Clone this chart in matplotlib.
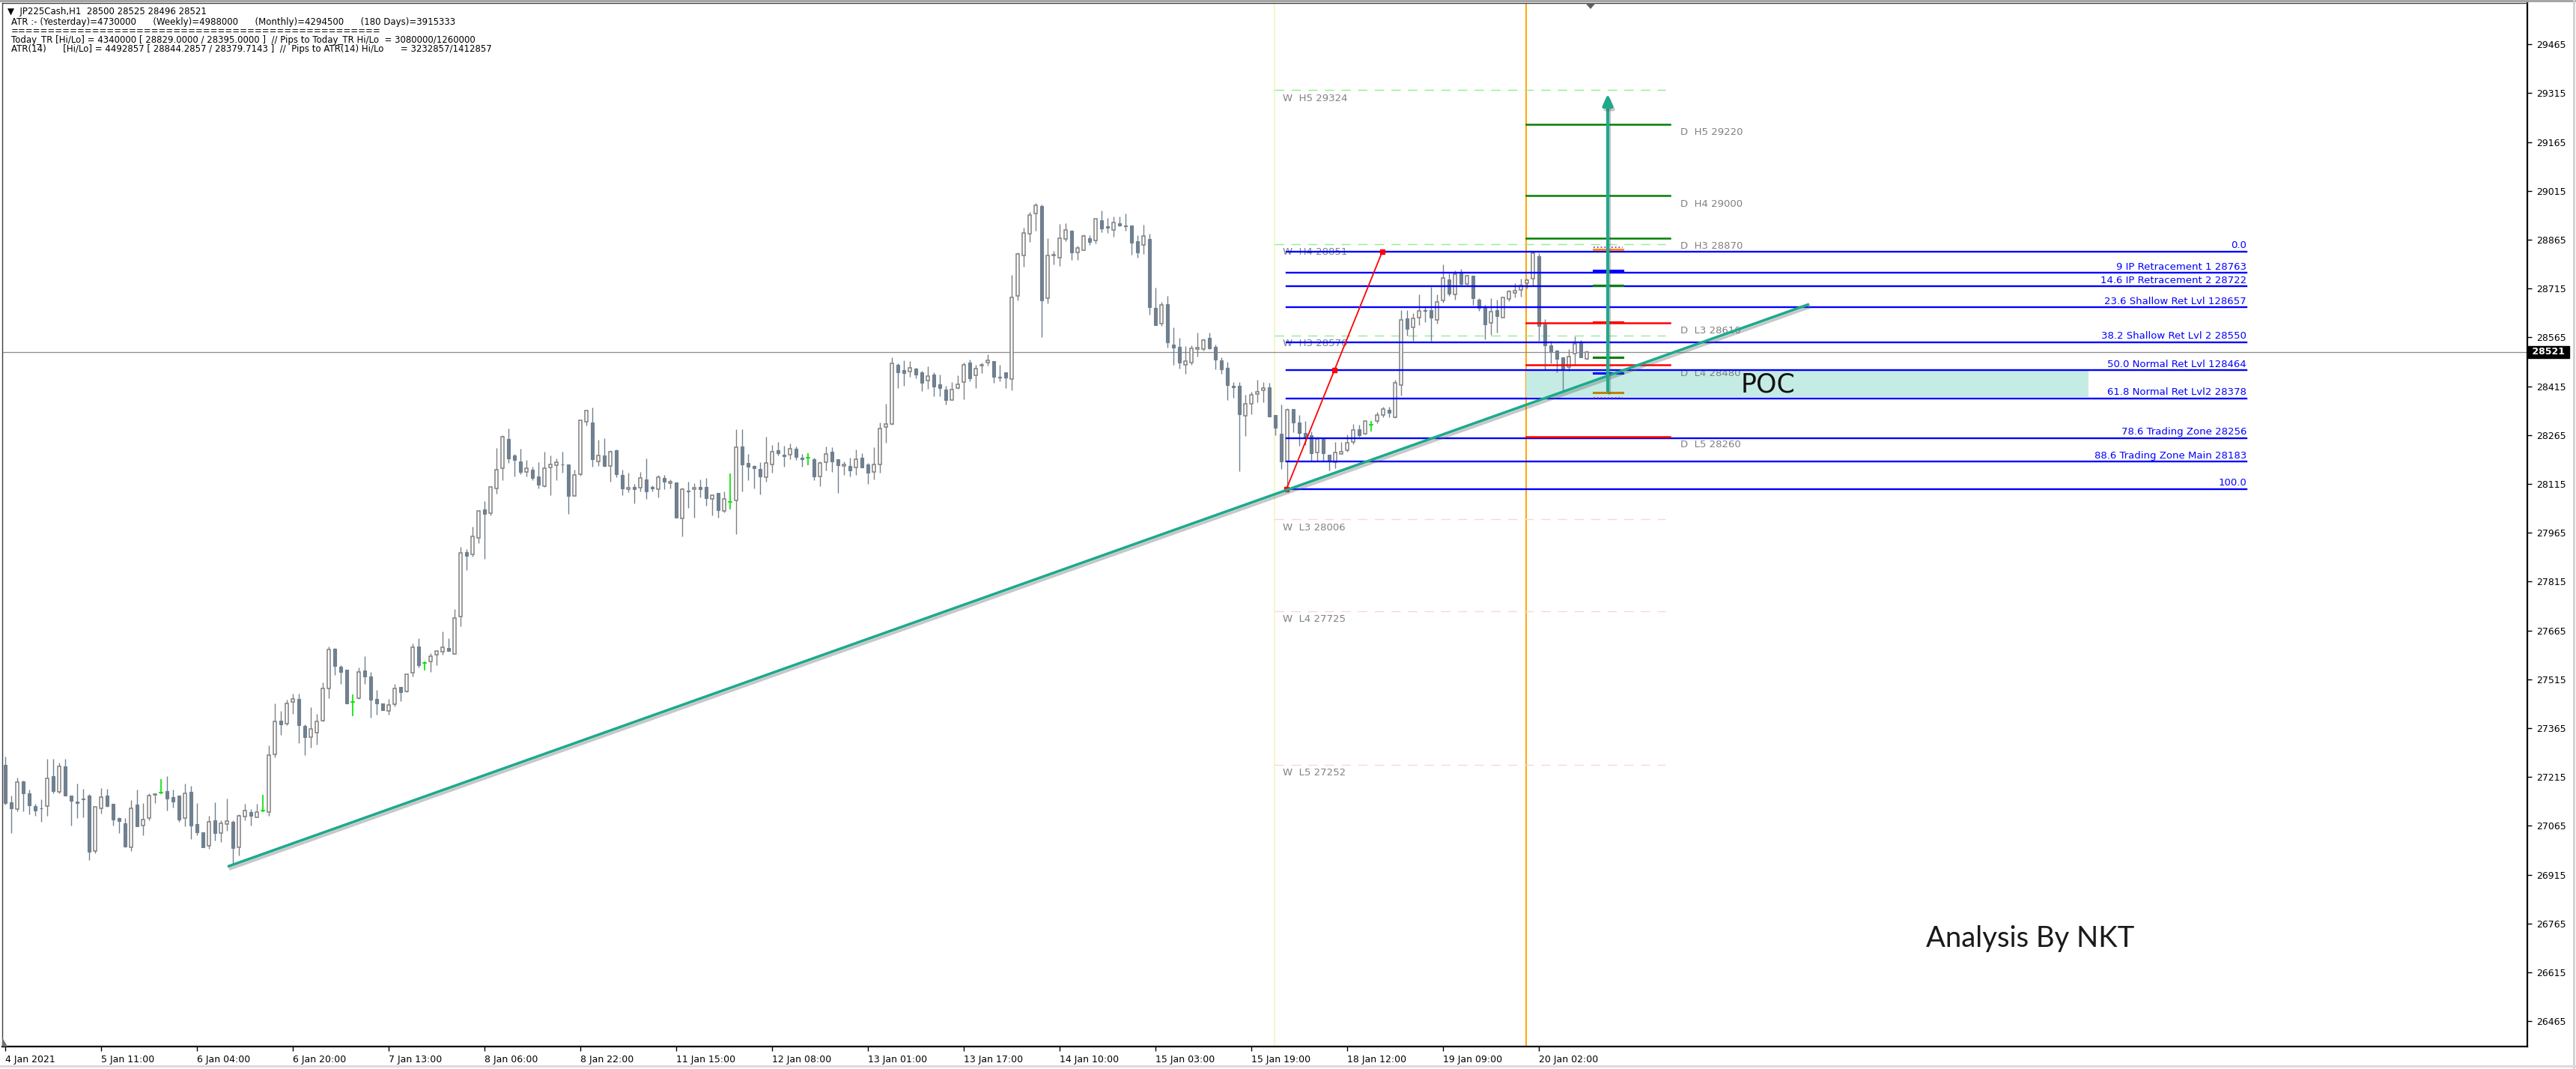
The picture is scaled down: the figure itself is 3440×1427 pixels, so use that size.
import numpy as np
import matplotlib
matplotlib.use('Agg')
import matplotlib.pyplot as plt
import matplotlib.patheffects as pe
from matplotlib.patches import Rectangle, Polygon
from matplotlib.lines import Line2D
from matplotlib import font_manager

# ---------------- data (hourly JP225Cash candles) ----------------
O = [
27253,27137,27116,27203,27164,27125,27120,27127,27217,27170,
27247,27157,27139,27150,27157,26989,27118,27157,27132,27088,
27072,27000,27130,27065,27088,27160,27168,27173,27153,27159,
27090,27170,27071,27045,27003,27082,27044,27070,27078,26999,
27093,27107,27091,27111,27107,27285,27389,27380,27445,27454,
27372,27337,27351,27389,27486,27609,27554,27544,27445,27458,
27542,27523,27454,27440,27417,27438,27492,27479,27535,27616,
27565,27569,27590,27600,27611,27592,27709,27906,27898,27949,
28036,28025,28102,28163,28253,28202,28183,28153,28159,28137,
28109,28165,28172,28176,28176,28078,28144,28305,28304,28183,
28202,28170,28219,28142,28098,28105,28103,28128,28105,28098,
28133,28117,28119,28009,28094,28098,28107,28106,28068,28087,
28032,28059,28064,28229,28179,28170,28160,28135,28175,28219,
28204,28205,28224,28196,28196,28192,28137,28181,28213,28190,
28170,28170,28165,28196,28176,28153,28176,28289,28300,28482,
28464,28461,28469,28457,28432,28450,28420,28406,28372,28410,
28427,28487,28448,28478,28487,28492,28443,28459,28438,28692,
28817,28883,28945,28968,28685,28817,28811,28867,28892,28825,
28834,28869,28863,28924,28906,28894,28915,28909,28909,28860,
28850,28867,28655,28607,28667,28542,28536,28482,28487,28529,
28530,28564,28535,28495,28472,28416,28417,28324,28361,28391,
28403,28411,28327,28269,28185,28346,28304,28272,28265,28211,
28253,28205,28181,28208,28219,28244,28282,28269,28298,28308,
28327,28343,28321,28418,28623,28596,28625,28649,28648,28618,
28679,28742,28696,28765,28729,28754,28681,28658,28610,28648,
28626,28684,28702,28710,28731,28745,28815,28604,28541,28524,
28503,28474,28516,28547,28500]

H = [
27278,27159,27214,27205,27176,27132,27147,27272,27270,27259,
27270,27159,27196,27178,27163,27124,27180,27178,27132,27092,
27088,27144,27176,27134,27164,27166,27209,27219,27176,27159,
27194,27189,27134,27045,27097,27137,27082,27150,27082,27100,
27132,27117,27132,27160,27312,27441,27419,27452,27472,27472,
27377,27430,27408,27506,27616,27611,27558,27544,27469,27551,
27586,27538,27482,27440,27456,27500,27492,27531,27624,27641,
27569,27596,27601,27663,27641,27730,27922,27914,27985,28034,
28062,28109,28225,28265,28285,28207,28223,28189,28168,28182,
28214,28202,28193,28214,28176,28159,28310,28340,28350,28251,
28255,28219,28221,28159,28150,28114,28152,28193,28110,28143,
28143,28129,28119,28104,28121,28117,28129,28134,28084,28087,
28091,28147,28282,28283,28207,28173,28181,28261,28235,28243,
28232,28239,28229,28206,28209,28196,28184,28230,28227,28190,
28184,28196,28221,28209,28180,28227,28304,28361,28504,28485,
28495,28492,28472,28462,28477,28458,28450,28416,28428,28449,
28488,28498,28480,28488,28513,28492,28481,28459,28758,28826,
28902,28950,28978,28973,28870,28831,28913,28915,28894,28846,
28881,28880,28930,28955,28932,28936,28936,28945,28909,28879,
28910,28883,28718,28673,28692,28596,28564,28539,28541,28580,
28561,28580,28543,28505,28489,28428,28428,28390,28399,28434,
28428,28426,28327,28359,28348,28346,28327,28309,28276,28261,
28253,28205,28245,28245,28267,28300,28296,28311,28309,28337,
28351,28353,28436,28648,28648,28639,28696,28658,28721,28696,
28790,28762,28771,28775,28758,28754,28685,28664,28685,28681,
28689,28710,28731,28746,28746,28831,28823,28621,28555,28526,
28503,28529,28568,28556,28525]

L = [
27130,27044,27109,27109,27100,27095,27077,27095,27164,27164,
27159,27067,27088,27092,26961,26982,27104,27124,27067,27042,
27000,26989,27063,27037,27082,27134,27163,27113,27121,27078,
27063,27025,27037,27000,26994,27021,27015,27051,26948,26975,
27082,27065,27091,27107,27095,27276,27345,27375,27410,27320,
27283,27306,27315,27387,27458,27529,27502,27442,27403,27454,
27500,27398,27406,27421,27406,27431,27449,27476,27525,27552,
27542,27538,27559,27590,27603,27592,27679,27851,27891,27934,
27886,28019,28086,28127,28180,28137,28146,28137,28127,28102,
28107,28081,28127,28150,28022,28078,28141,28295,28167,28171,
28167,28121,28135,28081,28089,28056,28091,28068,28091,28073,
28098,28102,28012,27953,28042,28012,28074,28048,28018,28012,
28027,28036,27960,28091,28127,28102,28084,28121,28150,28202,
28169,28190,28188,28169,28173,28127,28109,28157,28153,28088,
28143,28139,28143,28165,28116,28130,28150,28242,28298,28410,
28416,28445,28439,28401,28408,28384,28384,28360,28372,28407,
28376,28431,28410,28456,28478,28426,28431,28410,28403,28679,
28783,28859,28893,28567,28670,28790,28785,28861,28804,28804,
28834,28850,28854,28889,28885,28875,28906,28893,28820,28811,
28822,28634,28602,28600,28534,28480,28469,28453,28480,28506,
28524,28530,28468,28453,28372,28380,28154,28263,28328,28365,
28365,28323,28265,28161,28100,28275,28232,28235,28186,28186,
28186,28156,28164,28206,28215,28236,28261,28267,28276,28302,
28321,28319,28317,28387,28570,28555,28602,28611,28555,28607,
28671,28693,28681,28723,28727,28664,28647,28560,28574,28579,
28625,28677,28689,28690,28716,28723,28555,28468,28486,28457,
28396,28462,28478,28505,28496]

C = [
27136,27118,27199,27166,27129,27111,27118,27210,27173,27249,
27159,27141,27136,27147,26986,27123,27153,27127,27084,27081,
27002,27118,27063,27084,27157,27163,27168,27150,27140,27085,
27166,27065,27046,27000,27077,27042,27072,27079,26996,27097,
27111,27095,27107,27111,27282,27387,27376,27440,27456,27375,
27338,27364,27385,27486,27606,27555,27538,27442,27445,27537,
27525,27452,27442,27421,27436,27486,27475,27531,27614,27559,
27565,27585,27601,27613,27603,27703,27903,27895,27953,28032,
28022,28106,28158,28260,28194,28188,28151,28163,28133,28112,
28163,28176,28181,28174,28079,28142,28310,28340,28190,28203,
28171,28213,28144,28102,28103,28098,28133,28091,28102,28135,
28121,28121,28012,28098,28091,28103,28098,28072,28080,28035,
28068,28059,28227,28176,28167,28163,28137,28179,28213,28209,
28200,28223,28198,28190,28196,28139,28179,28206,28183,28173,
28175,28157,28192,28165,28150,28175,28286,28299,28485,28459,
28456,28471,28450,28426,28446,28415,28410,28373,28406,28420,
28480,28440,28470,28481,28494,28445,28441,28441,28689,28821,
28885,28942,28970,28679,28816,28818,28869,28894,28827,28840,
28876,28859,28930,28900,28901,28919,28909,28906,28857,28827,
28876,28659,28602,28664,28549,28533,28487,28493,28532,28534,
28557,28532,28497,28468,28418,28413,28328,28362,28388,28399,
28409,28323,28288,28185,28343,28304,28271,28258,28210,28252,
28210,28183,28211,28215,28242,28280,28265,28309,28298,28327,
28345,28334,28426,28618,28592,28624,28646,28647,28625,28673,
28748,28700,28760,28729,28754,28685,28656,28604,28645,28630,
28689,28706,28708,28725,28741,28823,28601,28541,28522,28499,
28470,28507,28545,28505,28521]

X_TICK_LABELS = ["4 Jan 2021", "5 Jan 11:00", "6 Jan 04:00", "6 Jan 20:00", "7 Jan 13:00",
                 "8 Jan 06:00", "8 Jan 22:00", "11 Jan 15:00", "12 Jan 08:00", "13 Jan 01:00",
                 "13 Jan 17:00", "14 Jan 10:00", "15 Jan 03:00", "15 Jan 19:00", "18 Jan 12:00",
                 "19 Jan 09:00", "20 Jan 02:00"]
Y_TICKS = [29465, 29315, 29165, 29015, 28865, 28715, 28565, 28415, 28265, 28115,
           27965, 27815, 27665, 27515, 27365, 27215, 27065, 26915, 26765, 26615, 26465]
LAST_PRICE = 28521

FIB_HIGH = 28829
FIB_LOW = 28100
FIB_LEVELS = [0.0, 9.0, 14.6, 23.6, 38.2, 50.0, 61.8, 78.6, 88.6, 100.0]
FIB_LABELS = ["0.0", "9 IP Retracement 1 28763", "14.6 IP Retracement 2 28722",
              "23.6 Shallow Ret Lvl 128657", "38.2 Shallow Ret Lvl 2 28550",
              "50.0 Normal Ret Lvl 128464", "61.8 Normal Ret Lvl2 28378",
              "78.6 Trading Zone 28256", "88.6 Trading Zone Main 28183", "100.0"]

W_NAMES = ["H5", "H4", "H3", "L3", "L4", "L5"]
W_PIVOTS = [29324, 28851, 28570, 28006, 27725, 27252]
D_NAMES = ["H5", "H4", "H3", "L3", "L4", "L5"]
D_PIVOTS = [29220, 29000, 28870, 28610, 28480, 28260]

MARK_PRICES = [28843, 28836, 28771, 28725, 28612, 28503, 28456, 28395, 28380]
MARK_COLORS = ["#9932cc", "#ff8c00", "#0000ff", "#008000", "#ff0000", "#008000", "#0000ff", "#b8860b", "#9932cc"]
MARK_STYLES = [":", "-", "-", "-", "-", "-", "-", "-", ":"]

TREND_PRICES = [26940, 28667]
ARROW_PRICES = [28401, 29313]
POC_PRICES = [28381, 28466]

HEADER = [
    "\u25bc  JP225Cash,H1  28500 28525 28496 28521",
    "ATR :- (Yesterday)=4730000      (Weekly)=4988000      (Monthly)=4294500      (180 Days)=3915333",
    "=" * 50,
    "Today_TR [Hi/Lo] = 4340000 [ 28829.0000 / 28395.0000 ]  // Pips to Today_TR Hi/Lo  = 3080000/1260000",
    "ATR(14)      [Hi/Lo] = 4492857 [ 28844.2857 / 28379.7143 ]  //  Pips to ATR(14) Hi/Lo      = 3232857/1412857",
]

# ---------------- layout ----------------
W_PX, H_PX = 3440, 1427
AX_L, AX_R, AX_T, AX_B = 3, 3375, 4, 1397
BAR0_PX, BAR_W_PX = 7, 8

def bar_of(xpx):
    return (xpx - BAR0_PX) / BAR_W_PX

avail = {f.name for f in font_manager.fontManager.ttflist}
NARROW = 'Liberation Sans Narrow' if 'Liberation Sans Narrow' in avail else None

fig = plt.figure(figsize=(W_PX / 100, H_PX / 100), dpi=100)
fig.patch.set_facecolor('white')
ax = fig.add_axes([AX_L / W_PX, 1 - AX_B / H_PX, (AX_R - AX_L) / W_PX, (AX_B - AX_T) / H_PX])
ax.set_facecolor('white')
ax.set_xlim(bar_of(AX_L), bar_of(AX_R))
ax.set_ylim(26387.5, 29592)

TEAL = '#1fa98c'
GRAY_TXT = '#808080'

# vertical separators
ax.axvline(bar_of(1702), color='#f3f3c4', lw=1.2, zorder=0.5)
ax.axvline(bar_of(2038), color='#ffa500', lw=1.4, zorder=0.6)

# current price line
ax.axhline(LAST_PRICE, color='#8c8c8c', lw=0.9, zorder=0.7)

# POC zone
ax.add_patch(Rectangle((bar_of(2038), POC_PRICES[0]), bar_of(2789) - bar_of(2038),
                       POC_PRICES[1] - POC_PRICES[0], fc='#c5ece4', ec='none', zorder=0.8))

# ---------------- candles ----------------
Oa, Ha, La, Ca = map(np.array, (O, H, L, C))
x = np.arange(len(Oa))
bull = Ca > Oa
bear = Ca < Oa
doji = Ca == Oa
ax.vlines(x[bull], La[bull], Ha[bull], color='#808080', lw=1.0, zorder=2)
ax.vlines(x[bear], La[bear], Ha[bear], color='#708090', lw=1.0, zorder=2)
ax.vlines(x[doji], La[doji], Ha[doji], color='#00e000', lw=1.2, zorder=2)
ax.hlines(Ca[doji], x[doji] - 0.35, x[doji] + 0.35, color='#00e000', lw=1.2, zorder=2)
bw = 0.62
hb = np.maximum(Ca[bull] - Oa[bull], 2)
ax.bar(x[bull], hb, bottom=Oa[bull], width=bw, facecolor='white', edgecolor='#808080',
       linewidth=1.1, zorder=2.2)
hr = np.maximum(Oa[bear] - Ca[bear], 2)
ax.bar(x[bear], hr, bottom=Ca[bear], width=bw, facecolor='#708090', edgecolor='#708090',
       linewidth=0.8, zorder=2.2)

# ---------------- weekly pivots (dashed) ----------------
wx0, wx1 = bar_of(1702), bar_of(2224)
for nm, p in zip(W_NAMES, W_PIVOTS):
    col = '#90ee90' if nm.startswith('H') else '#f6d8d8'
    ax.plot([wx0, wx1], [p, p], color=col, lw=1.0, dashes=(9, 7), zorder=1.5)
    ax.annotate(f"W  {nm} {p}", (bar_of(1713), p), xytext=(0, -3), textcoords='offset points',
                ha='left', va='top', fontsize=9.5, color=GRAY_TXT, zorder=3)

# ---------------- fibonacci ----------------
fx0, fx1 = bar_of(1718), bar_of(3000)
rng = FIB_HIGH - FIB_LOW
for lvl, lab in zip(FIB_LEVELS, FIB_LABELS):
    p = FIB_HIGH - lvl / 100.0 * rng
    ax.plot([fx0, fx1], [p, p], color='#0000ff', lw=1.7, zorder=3.2)
    if NARROW:
        ax.annotate(lab, (fx1, p), xytext=(0, 1), textcoords='offset points', ha='right',
                    va='bottom', fontsize=11.5, color='#0000ff', family=NARROW, zorder=3.3)
    else:
        ax.annotate(lab, (fx1, p), xytext=(0, 1), textcoords='offset points', ha='right',
                    va='bottom', fontsize=9.5, color='#0000ff', zorder=3.3)

# ---------------- daily pivots ----------------
dx0, dx1 = bar_of(2038), bar_of(2230)
for nm, p in zip(D_NAMES, D_PIVOTS):
    col = '#008000' if nm.startswith('H') else '#ff0000'
    ax.plot([dx0, dx1], [p, p], color=col, lw=1.8, zorder=3.4)
    ax.annotate(f"D  {nm} {p}", (bar_of(2244), p), xytext=(0, -3), textcoords='offset points',
                ha='left', va='top', fontsize=9.5, color=GRAY_TXT, zorder=3)

# fib anchor line (red)
fb0, fb1 = bar_of(1718), bar_of(1846)
ax.plot([fb0, fb1], [FIB_LOW, FIB_HIGH], color='#ff0000', lw=1.3, zorder=3.4)
ax.plot([fb0, (fb0 + fb1) / 2, fb1], [FIB_LOW, (FIB_LOW + FIB_HIGH) / 2, FIB_HIGH], ls='none',
        marker='s', ms=5, color='#ff0000', zorder=3.5)

# ---------------- marks (ATR / TR levels) ----------------
mx0, mx1 = bar_of(2128), bar_of(2167)
for p, c, s in zip(MARK_PRICES, MARK_COLORS, MARK_STYLES):
    ax.plot([mx0, mx1], [p, p], color=c, lw=2.2 if s == '-' else 1.3, ls=s, zorder=3.6)

# ---------------- trend line ----------------
shadow = [pe.SimpleLineShadow(offset=(1.5, -2.5), shadow_color='#606060', alpha=0.35), pe.Normal()]
ax.plot([bar_of(304), bar_of(2416)], TREND_PRICES, color=TEAL, lw=2.6, zorder=4,
        solid_capstyle='butt', path_effects=shadow)

# ---------------- arrow ----------------
ax_x = bar_of(2147)
ann = ax.annotate('', xy=(ax_x, ARROW_PRICES[1]), xytext=(ax_x, ARROW_PRICES[0]),
                  arrowprops=dict(arrowstyle='-|>,head_length=0.9,head_width=0.4', color=TEAL,
                                  lw=3.0, shrinkA=0, shrinkB=0), zorder=4.5)
ann.arrow_patch.set_path_effects(shadow)

# ---------------- POC text ----------------
if NARROW:
    ax.text(bar_of(2325), 28421, 'POC', fontsize=30, family=NARROW, va='center', ha='left',
            color='#111111', zorder=5)
else:
    ax.text(bar_of(2325), 28421, 'POC', fontsize=25, va='center', ha='left',
            color='#111111', zorder=5)

# ---------------- axes styling ----------------
for side in ['left', 'top']:
    ax.spines[side].set_color('#404040')
    ax.spines[side].set_linewidth(1.0)
for side in ['right', 'bottom']:
    ax.spines[side].set_color('black')
    ax.spines[side].set_linewidth(1.6)

ax.yaxis.tick_right()
ax.set_yticks(Y_TICKS)
ax.set_yticklabels([str(v) for v in Y_TICKS])
ax.tick_params(axis='y', direction='out', length=4, width=1, pad=5, labelsize=9, colors='black')

xt = [16 * i for i in range(len(X_TICK_LABELS))]
ax.set_xticks(xt)
ax.set_xticklabels(X_TICK_LABELS, ha='left')
ax.tick_params(axis='x', direction='out', length=4, width=1, pad=4, labelsize=9, colors='black')

# last price box
ax.text(1.0007, LAST_PRICE, ' ' + str(LAST_PRICE) + ' ', transform=ax.get_yaxis_transform(),
        ha='left', va='center', color='white', fontsize=9, fontweight='bold',
        bbox=dict(boxstyle='square,pad=0.12', fc='black', ec='black'), clip_on=False, zorder=10)

# ---------------- header texts ----------------
hy = [15, 29, 42, 54, 66]
for i, (t, y) in enumerate(zip(HEADER, hy)):
    xx = 10 if i == 0 else 15
    fig.text(xx / W_PX, 1 - y / H_PX, t, fontsize=8.5, ha='left', va='center', color='black')

fig.text(2572 / W_PX, 1 - 1253 / H_PX, 'Analysis By NKT', fontsize=27.5, ha='left', va='center',
         color='#1a1a1a', family='Lato')

# small markers
fig.patches.append(Polygon([(2117 / W_PX, 1 - 4 / H_PX), (2131 / W_PX, 1 - 4 / H_PX),
                            (2124 / W_PX, 1 - 12 / H_PX)], closed=True, fc='#606060', ec='none',
                           transform=fig.transFigure, figure=fig))
fig.patches.append(Polygon([(3 / W_PX, 1 - 1385 / H_PX), (3 / W_PX, 1 - 1397 / H_PX),
                            (10 / W_PX, 1 - 1397 / H_PX)], closed=True, fc='#707070', ec='none',
                           transform=fig.transFigure, figure=fig))
# outer frame
fig.lines.append(Line2D([0, 1], [1 - 1 / H_PX, 1 - 1 / H_PX], transform=fig.transFigure,
                        color='#a0a0a0', lw=2))
fig.lines.append(Line2D([3437 / W_PX, 3437 / W_PX], [0, 1], transform=fig.transFigure,
                        color='#d0d0d0', lw=2))
fig.lines.append(Line2D([0, 1], [1 - 1423 / H_PX, 1 - 1423 / H_PX], transform=fig.transFigure,
                        color='#d8d8d8', lw=2))

fig.savefig('out.png', dpi=100, facecolor='white')
